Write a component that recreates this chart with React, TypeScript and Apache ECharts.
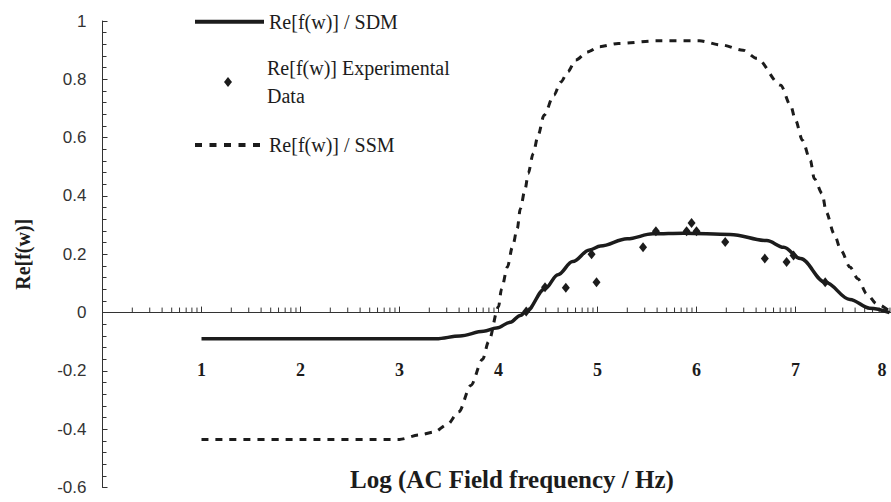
import React, { useEffect, useRef } from "react";
import * as echarts from "echarts";

// x values are Log10(frequency / Hz)
const sdmX = [1, 2, 3, 3.37, 3.61, 3.85, 3.98, 4.12, 4.22, 4.28, 4.47, 4.6, 4.75, 4.92, 5.03, 5.3, 5.56, 5.87, 6.34, 6.71, 6.88, 7.05, 7.3, 7.55, 7.75, 7.95];
const sdmY = [-0.09, -0.09, -0.09, -0.09, -0.08, -0.064, -0.053, -0.033, -0.01, 0.004, 0.082, 0.13, 0.175, 0.215, 0.228, 0.253, 0.27, 0.272, 0.268, 0.247, 0.224, 0.185, 0.104, 0.045, 0.015, 0.0];

const ssmX = [1, 2, 3, 3.2, 3.35, 3.48, 3.6, 3.72, 3.84, 3.9, 4.0, 4.03, 4.09, 4.14, 4.19, 4.22, 4.27, 4.3, 4.35, 4.4, 4.46, 4.56, 4.63, 4.7, 4.78, 4.9, 5.02, 5.21, 5.6, 6.03, 6.25, 6.47, 6.61, 6.85, 6.95, 7.0, 7.07, 7.15, 7.19, 7.27, 7.31, 7.39, 7.46, 7.55, 7.63, 7.72, 7.82, 7.94];
const ssmY = [-0.435, -0.435, -0.435, -0.42, -0.41, -0.385, -0.34, -0.25, -0.16, -0.1, 0.02, 0.08, 0.156, 0.224, 0.288, 0.356, 0.425, 0.477, 0.545, 0.608, 0.677, 0.746, 0.791, 0.826, 0.866, 0.894, 0.912, 0.923, 0.932, 0.932, 0.918, 0.9, 0.872, 0.78, 0.711, 0.66, 0.591, 0.522, 0.459, 0.408, 0.345, 0.27, 0.213, 0.156, 0.116, 0.064, 0.03, 0.007];

const expX = [4.28, 4.47, 4.68, 4.94, 4.99, 5.46, 5.59, 5.9, 5.95, 6.0, 6.29, 6.69, 6.91, 6.98, 7.3];
const expY = [0.004, 0.087, 0.085, 0.2, 0.104, 0.224, 0.279, 0.279, 0.307, 0.279, 0.242, 0.185, 0.173, 0.196, 0.104];

const decades = [0, 1, 2, 3, 4, 5, 6, 7];
const minorMultipliers = [2, 3, 4, 5, 6, 7, 8, 9];

const SDM = "Re[f(w)] / SDM";
const EXP = "Re[f(w)] Experimental";
const SSM = "Re[f(w)] / SSM";

const ink = "#1c1c1c";
const serif = "'Liberation Serif', 'Times New Roman', serif";
const sans = "'Liberation Sans', Arial, sans-serif";

export default function App() {
  const ref = useRef<HTMLDivElement>(null);
  useEffect(() => {
    if (!ref.current) return;
    const chart = echarts.init(ref.current, undefined, { renderer: "svg" });
    const minorTicks: number[][] = [];
    decades.forEach((d) => minorMultipliers.forEach((m) => minorTicks.push([d + Math.log10(m), 0])));

    const legendText = { fontFamily: serif, fontSize: 20, color: ink, lineHeight: 22 };
    chart.setOption({
      animation: false,
      backgroundColor: "#ffffff",
      grid: { left: 102.5, right: -3.5, top: 21, bottom: 14.5, containLabel: false, outerBoundsMode: "none" },
      xAxis: {
        type: "value",
        min: 0,
        max: 8,
        interval: 1,
        axisLine: { onZero: true, lineStyle: { color: "#333", width: 1 } },
        axisTick: { inside: true, length: 6, lineStyle: { color: "#333" } },
        axisLabel: {
          margin: -126.5,
          fontFamily: serif,
          fontWeight: "bold",
          fontSize: 18,
          color: ink,
          alignMaxLabel: "right",
          formatter: (v: number) => (v === 0 ? "" : v === 8 ? "{r|8}" : String(v)),
          rich: { r: { fontFamily: serif, fontWeight: "bold", fontSize: 18, color: ink, padding: [0, 8, 0, 0] } },
        },
        splitLine: { show: false },
      },
      yAxis: {
        type: "value",
        min: -0.6,
        max: 1,
        interval: 0.2,
        name: "Re[f(w)]",
        nameLocation: "middle",
        nameRotate: 90,
        nameGap: 70,
        nameTextStyle: { fontFamily: serif, fontWeight: "bold", fontSize: 20, color: ink },
        axisLine: { show: true, lineStyle: { color: "#333", width: 1 } },
        axisTick: { show: true, inside: true, length: 5, lineStyle: { color: "#333" } },
        minorTick: { show: true, splitNumber: 5, length: 4, lineStyle: { color: "#333" } },
        axisLabel: {
          margin: 16,
          fontFamily: sans,
          fontSize: 17,
          color: "#333",
          formatter: (v: number) => String(Math.round(v * 10) / 10),
        },
        splitLine: { show: false },
      },
      legend: [
        {
          data: [SDM],
          left: 193,
          top: 10.7,
          padding: 0,
          itemWidth: 69,
          itemHeight: 14,
          itemStyle: { opacity: 0 },
          lineStyle: { width: 4, color: ink },
          textStyle: legendText,
        },
        {
          data: [EXP],
          left: 224,
          top: 40,
          padding: 0,
          itemWidth: 8,
          itemHeight: 10,
          itemStyle: { opacity: 1, color: ink },
          formatter: () => EXP + "\nData",
          textStyle: { fontFamily: serif, fontSize: 20, color: ink, lineHeight: 28, padding: [28, 0, 0, 30] },
        },
        {
          data: [SSM],
          left: 193,
          top: 134,
          padding: 0,
          itemWidth: 69,
          itemHeight: 14,
          itemStyle: { opacity: 0 },
          lineStyle: { width: 4, color: ink, type: [7, 7.5] },
          textStyle: legendText,
        },
      ],
      graphic: [
        {
          type: "text",
          x: 512,
          y: 479,
          style: {
            text: "Log (AC Field frequency / Hz)",
            fontFamily: serif,
            fontWeight: "bold",
            fontSize: 25,
            fill: ink,
            textAlign: "center",
            textVerticalAlign: "middle",
          },
        },
      ],
      series: [
        {
          type: "custom",
          silent: true,
          data: minorTicks,
          renderItem: (params: any, api: any) => {
            const p = api.coord([api.value(0), 0]);
            return {
              type: "line",
              shape: { x1: p[0], y1: p[1], x2: p[0], y2: p[1] - 5 },
              style: { stroke: "#333", lineWidth: 1 },
            };
          },
          z: 1,
        },
        {
          name: SSM,
          type: "line",
          data: ssmX.map((x, i) => [x, ssmY[i]]),
          symbol: "none",
          smooth: 0.3,
          smoothMonotone: "x",
          lineStyle: { color: ink, width: 3, type: [7, 7] },
          itemStyle: { color: ink },
          z: 3,
        },
        {
          name: SDM,
          type: "line",
          data: sdmX.map((x, i) => [x, sdmY[i]]),
          symbol: "none",
          smooth: 0.35,
          smoothMonotone: "x",
          lineStyle: { color: ink, width: 3.5, type: "solid" },
          itemStyle: { color: ink },
          z: 4,
        },
        {
          name: EXP,
          type: "scatter",
          data: expX.map((x, i) => [x, expY[i]]),
          symbol: "diamond",
          symbolSize: [8, 10],
          itemStyle: { color: ink, opacity: 1 },
          z: 5,
        },
      ],
    });
    return () => chart.dispose();
  }, []);
  return <div ref={ref} style={{ width: 891, height: 502, position: "absolute", left: 0, top: 0 }} />;
}
